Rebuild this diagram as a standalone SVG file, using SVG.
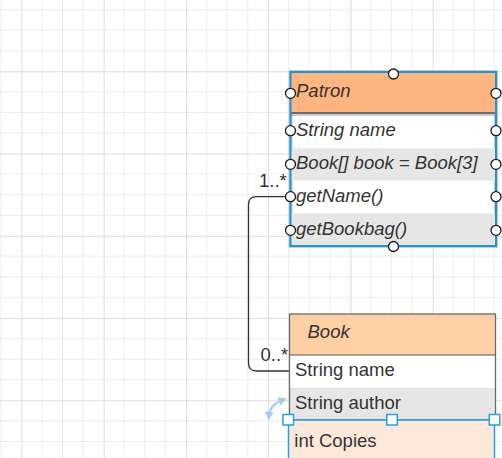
<svg xmlns="http://www.w3.org/2000/svg" width="502" height="458" viewBox="0 0 502 458">
<defs>
<pattern id="grid" patternUnits="userSpaceOnUse" x="21.4" y="71.3" width="82.25" height="82.25">
<path d="M20.56 0V82.25M41.12 0V82.25M61.69 0V82.25M0 20.56H82.25M0 41.12H82.25M0 61.69H82.25" stroke="#ebebeb" stroke-width="1" fill="none"/>
<path d="M0.5 0V82.25M0 0.5H82.25" stroke="#dcdcdc" stroke-width="1" fill="none"/>
</pattern>
<marker id="rot" viewBox="0 0 10 10" refX="5" refY="5" markerWidth="4" markerHeight="4" orient="auto-start-reverse">
<path d="M0 0L10 5L0 10z" fill="#a6cdef"/>
</marker>
</defs>
<style>
.t{font-family:"Liberation Sans",Arial,sans-serif;font-size:18.5px;fill:#333}
.i{font-style:italic}
.gray{fill:#e6e6e6}
.pt{fill:#fff;stroke:#1a1a1a;stroke-width:1.3}
.h{fill:#fff;stroke:#29a0dc;stroke-width:1.5}
</style>
<rect width="502" height="458" fill="#fff"/>
<rect width="502" height="458" fill="url(#grid)"/>

<g id="connectors">
<path d="M290.5 196.7H256.5Q248.5 196.7 248.5 204.7V363Q248.5 371 256.5 371H289.5" fill="none" stroke="#333" stroke-width="1.3"/>
<text class="t" x="259" y="187.3">1..*</text>
<text class="t" x="260.5" y="361">0..*</text>
</g>

<g id="patron">
<rect x="290.5" y="72" width="205.5" height="174" fill="#fff" stroke="#a9d3ee" stroke-width="4"/>
<rect x="290.5" y="72" width="205.5" height="40.5" fill="#ffb580"/>
<rect x="290.5" y="148.3" width="205.5" height="32.4" class="gray"/>
<rect x="290.5" y="213.2" width="205.5" height="32.8" class="gray"/>
<line x1="290.5" y1="113" x2="496" y2="113" stroke="#6e6e6e" stroke-width="2"/>
<line x1="290.5" y1="115" x2="496" y2="115" stroke="#9a9a9a" stroke-width="1"/>
<rect x="290.5" y="72" width="205.5" height="174" fill="none" stroke="#2f8fc8" stroke-width="2"/>
<text class="t i" x="296" y="97">Patron</text>
<text class="t i" x="296" y="136">String name</text>
<text class="t i" x="296" y="169.3">Book[] book = Book[3]</text>
<text class="t i" x="296" y="201.7">getName()</text>
<text class="t i" x="296" y="235">getBookbag()</text>
<circle class="pt" cx="393.5" cy="74" r="5"/>
<circle class="pt" cx="393.5" cy="246.5" r="5"/>
<circle class="pt" cx="290.5" cy="93.3" r="5"/>
<circle class="pt" cx="496" cy="93.3" r="5"/>
<circle class="pt" cx="290.5" cy="130.7" r="5"/>
<circle class="pt" cx="496" cy="130.7" r="5"/>
<circle class="pt" cx="290.5" cy="164.3" r="5"/>
<circle class="pt" cx="496" cy="164.3" r="5"/>
<circle class="pt" cx="290.5" cy="196.7" r="5"/>
<circle class="pt" cx="496" cy="196.7" r="5"/>
<circle class="pt" cx="290.5" cy="230.3" r="5"/>
<circle class="pt" cx="496" cy="230.3" r="5"/>
</g>

<g id="book">
<rect x="289.5" y="314" width="206" height="106" fill="#fff"/>
<rect x="289.5" y="314" width="206" height="41" fill="#ffcfa6"/>
<rect x="289.5" y="387.7" width="206" height="32.3" class="gray"/>
<line x1="289.5" y1="355" x2="495.5" y2="355" stroke="#555" stroke-width="1.2"/>
<rect x="289.5" y="314" width="206" height="106" fill="none" stroke="#6a6a6a" stroke-width="1.3"/>
<text class="t i" x="307.5" y="338.3">Book</text>
<text class="t" x="295" y="376">String name</text>
<text class="t" x="295" y="409.3">String author</text>
</g>

<g id="copies">
<rect x="288.5" y="420" width="206" height="42" fill="#fee8da" stroke="#29a0dc" stroke-width="1.5"/>
<text class="t" x="294.3" y="446.7">int Copies</text>
<rect class="h" x="283" y="414.5" width="10.5" height="10.5"/>
<rect class="h" x="386.8" y="414.5" width="10.5" height="10.5"/>
<rect class="h" x="489.3" y="414.5" width="10.5" height="10.5"/>
<path d="M269 416Q270 404 283 400" fill="none" stroke="#a6cdef" stroke-width="2.2" marker-start="url(#rot)" marker-end="url(#rot)"/>
</g>
</svg>
